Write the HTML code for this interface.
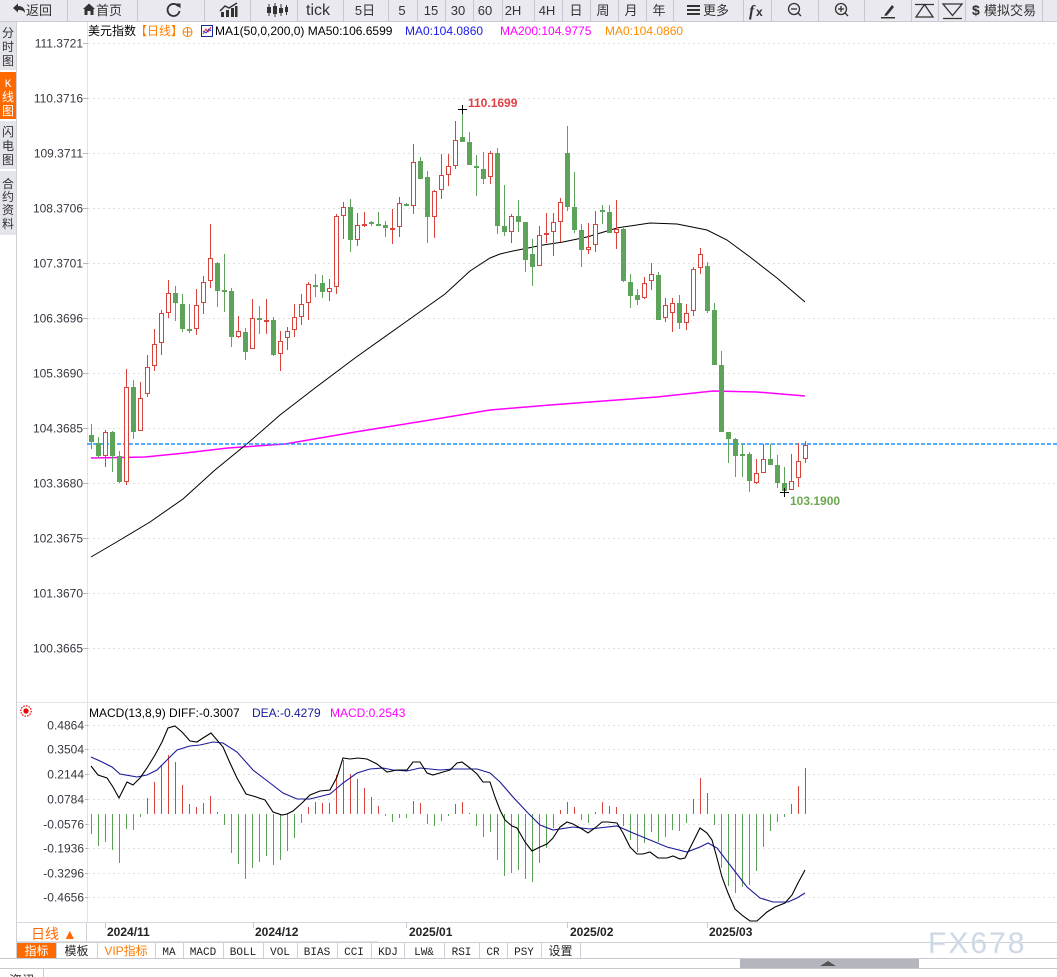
<!DOCTYPE html>
<html><head><meta charset="utf-8"><style>
html,body{margin:0;padding:0;background:#fff;}
body{width:1057px;height:977px;overflow:hidden;position:relative;}
svg{display:block;}
</style></head><body>
<svg width="1057" height="977" xmlns="http://www.w3.org/2000/svg" font-family="'Liberation Sans','Noto Sans CJK SC',sans-serif" shape-rendering="crispEdges">
<rect x="0" y="0" width="1057" height="977" fill="#fff"/>

<!-- Toolbar -->
<rect x="0" y="0" width="1057" height="21" fill="#e9e9ef"/>
<line x1="0" y1="21.5" x2="1057" y2="21.5" stroke="#c9cad2"/>
<g stroke="#c6c7d0">
<line x1="67.5" y1="0" x2="67.5" y2="21"/><line x1="137.5" y1="0" x2="137.5" y2="21"/><line x1="204.5" y1="0" x2="204.5" y2="21"/><line x1="250.5" y1="0" x2="250.5" y2="21"/><line x1="297.5" y1="0" x2="297.5" y2="21"/><line x1="343.5" y1="0" x2="343.5" y2="21"/><line x1="388.5" y1="0" x2="388.5" y2="21"/><line x1="417.5" y1="0" x2="417.5" y2="21"/><line x1="445.5" y1="0" x2="445.5" y2="21"/><line x1="473.5" y1="0" x2="473.5" y2="21"/><line x1="502.5" y1="0" x2="502.5" y2="21"/><line x1="534.5" y1="0" x2="534.5" y2="21"/><line x1="562.5" y1="0" x2="562.5" y2="21"/><line x1="590.5" y1="0" x2="590.5" y2="21"/><line x1="618.5" y1="0" x2="618.5" y2="21"/><line x1="646.5" y1="0" x2="646.5" y2="21"/><line x1="673.5" y1="0" x2="673.5" y2="21"/><line x1="743.5" y1="0" x2="743.5" y2="21"/><line x1="771.5" y1="0" x2="771.5" y2="21"/><line x1="818.5" y1="0" x2="818.5" y2="21"/><line x1="864.5" y1="0" x2="864.5" y2="21"/><line x1="911.5" y1="0" x2="911.5" y2="21"/><line x1="938.5" y1="0" x2="938.5" y2="21"/><line x1="965.5" y1="0" x2="965.5" y2="21"/><line x1="1042.5" y1="0" x2="1042.5" y2="21"/>
</g>
<g shape-rendering="auto">
<path d="M13 8 L18 3.5 L18 6 C22 6 25 8 25 13 C23.5 10.5 21.5 10 18 10 L18 12.5 Z" fill="#333"/>
<path d="M83 9 L89 3.5 L95 9 L93.5 9 L93.5 15 L90.5 15 L90.5 11 L87.5 11 L87.5 15 L84.5 15 L84.5 9 Z" fill="#333"/>
<path d="M178.5 6.5 A6 6 0 1 0 179.5 11" fill="none" stroke="#333" stroke-width="1.8"/>
<path d="M175.5 3.5 L180.5 3.5 L180.5 8.5 Z" fill="#333"/>
<g fill="#333"><rect x="221" y="12" width="3" height="5"/><rect x="226" y="10" width="3" height="7"/><rect x="231" y="8" width="3" height="9"/><rect x="235" y="6" width="2.5" height="11"/></g>
<path d="M220 11 L225 6 L229 8 L237 3" fill="none" stroke="#333" stroke-width="1.5"/>
<g fill="#333"><rect x="268.5" y="4" width="1" height="12"/><rect x="267" y="7" width="4" height="6"/><rect x="274.5" y="3" width="1" height="14"/><rect x="273" y="6" width="4" height="8"/><rect x="280.5" y="4" width="1" height="12"/><rect x="279" y="8" width="4" height="5"/><rect x="286" y="5" width="1" height="10"/><rect x="285" y="7" width="3" height="5"/></g>
</g>
<g font-size="13" fill="#333" text-anchor="middle">
<text x="39" y="15">返回</text>
<text x="109" y="15">首页</text>
<text x="318" y="15" font-size="16">tick</text>
<text x="365" y="15">5日</text>
<text x="402" y="15">5</text>
<text x="431" y="15">15</text>
<text x="458" y="15">30</text>
<text x="485" y="15">60</text>
<text x="513" y="15">2H</text>
<text x="547" y="15">4H</text>
<text x="576" y="15">日</text>
<text x="603" y="15">周</text>
<text x="631" y="15">月</text>
<text x="659" y="15">年</text>
<text x="716" y="15">更多</text>
<text x="1010" y="15">模拟交易</text>
</g>
<g fill="#333"><rect x="687" y="5" width="13" height="2"/><rect x="687" y="9" width="13" height="2"/><rect x="687" y="13" width="13" height="2"/></g>
<text x="749" y="16" font-family="'Liberation Serif',serif" font-style="italic" font-weight="bold" font-size="16" fill="#333">f</text>
<text x="756" y="16" font-family="'Liberation Sans',sans-serif" font-weight="bold" font-size="12" fill="#333">x</text>
<g shape-rendering="auto" fill="none" stroke="#333" stroke-width="1.3">
<circle cx="794" cy="9" r="5.5"/><line x1="791" y1="9" x2="797" y2="9"/><line x1="798" y1="13" x2="801" y2="16"/>
<circle cx="841" cy="9" r="5.5"/><line x1="838" y1="9" x2="844" y2="9"/><line x1="841" y1="6" x2="841" y2="12"/><line x1="845" y1="13" x2="848" y2="16"/>
<path d="M915 4.5 L934 4.5 M924.5 4.5 L933 17 L916 17 Z"/>
<path d="M943 4 L962 4 L952.5 15.5 Z M943 18.5 L962 18.5"/>
</g>
<g shape-rendering="auto"><path d="M885 14 L892 5 L894 7 L887 15.5 L884.5 16 Z" fill="#333"/><rect x="881" y="17" width="14" height="1.5" fill="#333"/></g>
<text x="972" y="15" font-size="14" font-weight="bold" fill="#333">$</text>

<!-- Left sidebar -->
<rect x="0" y="22" width="16" height="48" fill="#e4e4eb"/>
<rect x="0" y="72" width="16" height="47" fill="#ff6a00"/>
<rect x="0" y="121" width="16" height="48" fill="#e4e4eb"/>
<rect x="0" y="171" width="16" height="64" fill="#e4e4eb"/>
<line x1="16.5" y1="22" x2="16.5" y2="958" stroke="#cfcfd6"/>
<g font-size="12" fill="#333" text-anchor="middle">
<text x="8" y="37">分</text><text x="8" y="51">时</text><text x="8" y="65">图</text>
<text x="8" y="87" fill="#fff" font-family="'Liberation Mono',monospace" font-size="11">K</text><text x="8" y="101" fill="#fff">线</text><text x="8" y="115" fill="#fff">图</text>
<text x="8" y="136">闪</text><text x="8" y="150">电</text><text x="8" y="164">图</text>
<text x="8" y="188">合</text><text x="8" y="201">约</text><text x="8" y="214">资</text><text x="8" y="228">料</text>
</g>

<!-- Price axis -->
<line x1="87.5" y1="22" x2="87.5" y2="922" stroke="#e2e2e8"/>
<g stroke="#e0e0e0" stroke-dasharray="2,3">
<line x1="88" y1="43.5" x2="1057" y2="43.5"/><line x1="88" y1="98.5" x2="1057" y2="98.5"/><line x1="88" y1="153.5" x2="1057" y2="153.5"/><line x1="88" y1="208.5" x2="1057" y2="208.5"/><line x1="88" y1="263.5" x2="1057" y2="263.5"/><line x1="88" y1="318.5" x2="1057" y2="318.5"/><line x1="88" y1="373.5" x2="1057" y2="373.5"/><line x1="88" y1="428.5" x2="1057" y2="428.5"/><line x1="88" y1="483.5" x2="1057" y2="483.5"/><line x1="88" y1="538.5" x2="1057" y2="538.5"/><line x1="88" y1="593.5" x2="1057" y2="593.5"/><line x1="88" y1="648.5" x2="1057" y2="648.5"/>
<line x1="88" y1="725.5" x2="1057" y2="725.5"/><line x1="88" y1="749.5" x2="1057" y2="749.5"/><line x1="88" y1="774.5" x2="1057" y2="774.5"/><line x1="88" y1="799.5" x2="1057" y2="799.5"/><line x1="88" y1="824.5" x2="1057" y2="824.5"/><line x1="88" y1="848.5" x2="1057" y2="848.5"/><line x1="88" y1="873.5" x2="1057" y2="873.5"/><line x1="88" y1="897.5" x2="1057" y2="897.5"/>
</g>
<g stroke="#b8b8c0">
<line x1="83" y1="43.5" x2="88" y2="43.5"/><line x1="83" y1="98.5" x2="88" y2="98.5"/><line x1="83" y1="153.5" x2="88" y2="153.5"/><line x1="83" y1="208.5" x2="88" y2="208.5"/><line x1="83" y1="263.5" x2="88" y2="263.5"/><line x1="83" y1="318.5" x2="88" y2="318.5"/><line x1="83" y1="373.5" x2="88" y2="373.5"/><line x1="83" y1="428.5" x2="88" y2="428.5"/><line x1="83" y1="483.5" x2="88" y2="483.5"/><line x1="83" y1="538.5" x2="88" y2="538.5"/><line x1="83" y1="593.5" x2="88" y2="593.5"/><line x1="83" y1="648.5" x2="88" y2="648.5"/>
<line x1="85" y1="725.5" x2="88" y2="725.5"/><line x1="85" y1="749.5" x2="88" y2="749.5"/><line x1="85" y1="774.5" x2="88" y2="774.5"/><line x1="85" y1="799.5" x2="88" y2="799.5"/><line x1="85" y1="824.5" x2="88" y2="824.5"/><line x1="85" y1="848.5" x2="88" y2="848.5"/><line x1="85" y1="873.5" x2="88" y2="873.5"/><line x1="85" y1="897.5" x2="88" y2="897.5"/>
</g>
<g font-size="12" fill="#363640" text-anchor="end">
<text x="83" y="47.5">111.3721</text><text x="83" y="102.5">110.3716</text><text x="83" y="157.5">109.3711</text><text x="83" y="212.5">108.3706</text><text x="83" y="267.5">107.3701</text><text x="83" y="322.5">106.3696</text><text x="83" y="377.5">105.3690</text><text x="83" y="432.5">104.3685</text><text x="83" y="487.5">103.3680</text><text x="83" y="542.5">102.3675</text><text x="83" y="597.5">101.3670</text><text x="83" y="652.5">100.3665</text>
<text x="84" y="729.5">0.4864</text><text x="84" y="753.5">0.3504</text><text x="84" y="778.5">0.2144</text><text x="84" y="803.5">0.0784</text><text x="84" y="828.5">-0.0576</text><text x="84" y="852.5">-0.1936</text><text x="84" y="877.5">-0.3296</text><text x="84" y="901.5">-0.4656</text>
</g>

<!-- Legend -->
<g font-size="12">
<text x="88" y="35" fill="#000">美元指数</text>
<text x="135" y="35" fill="#ff7f00">【日线】</text>
<text x="215" y="35" fill="#000">MA1(50,0,200,0) MA50:106.6599</text>
<text x="405" y="35" fill="#1a1ae6">MA0:104.0860</text>
<text x="500" y="35" fill="#ff00ff">MA200:104.9775</text>
<text x="605" y="35" fill="#ff8c00">MA0:104.0860</text>
</g>
<g shape-rendering="auto">
<circle cx="187.5" cy="32" r="4.5" fill="none" stroke="#ff7f00"/><line x1="183" y1="32" x2="192" y2="32" stroke="#ff7f00"/><line x1="187.5" y1="27.5" x2="187.5" y2="36.5" stroke="#ff7f00"/>
<rect x="201.5" y="25.5" width="11" height="11" fill="#fff" stroke="#1a2a9a"/>
<path d="M203 34 L206 29 L208 32 L211 27" fill="none" stroke="#e23" stroke-width="1"/>
<path d="M203 31 L206 33 L209 29 L211 31" fill="none" stroke="#23c" stroke-width="1"/>
</g>

<!-- MA200 and MA50 -->
<g shape-rendering="auto" fill="none">
<polyline stroke="#ff00ff" stroke-width="1.5" points="91,458 145,457 185,453 228,448 285,444 355,432 430,420 490,410 550,405 590,402 657,397 713,391 757,392 805,396"/>
<polyline stroke="#000" stroke-width="1" points="91,557 120,540 150,522 183,499 215,470 248,443 280,415 315,388 355,358 400,326 445,294 470,271 490,258 500,254 513,251 543,245 563,242 587,237 617,228 623,227 650,223 677,224 707,230 727,240 750,257 777,278 805,302"/>
</g>
<line x1="87" y1="444" x2="1057" y2="444" stroke="#1e90ff" stroke-width="1.5" stroke-dasharray="4,2" shape-rendering="auto"/>

<!-- Green candles -->
<g fill="#5da35a">
<rect x="91" y="424" width="1" height="25"/><rect x="89" y="435" width="5" height="7"/>
<rect x="98" y="437" width="1" height="21"/><rect x="96" y="443" width="5" height="13"/>
<rect x="112" y="431" width="1" height="41"/><rect x="110" y="432" width="5" height="24"/>
<rect x="119" y="451" width="1" height="32"/><rect x="117" y="456" width="5" height="26"/>
<rect x="133" y="380" width="1" height="59"/><rect x="131" y="387" width="5" height="45"/>
<rect x="175" y="286" width="1" height="35"/><rect x="173" y="293" width="5" height="10"/>
<rect x="182" y="294" width="1" height="38"/><rect x="180" y="304" width="5" height="25"/>
<rect x="189" y="304" width="1" height="29"/><rect x="187" y="329" width="5" height="2"/>
<rect x="217" y="262" width="1" height="45"/><rect x="215" y="263" width="5" height="28"/>
<rect x="224" y="254" width="1" height="58"/><rect x="222" y="290" width="5" height="2"/>
<rect x="231" y="288" width="1" height="59"/><rect x="229" y="291" width="5" height="46"/>
<rect x="245" y="328" width="1" height="32"/><rect x="243" y="332" width="5" height="20"/>
<rect x="259" y="306" width="1" height="28"/><rect x="257" y="318" width="5" height="2"/>
<rect x="273" y="317" width="1" height="39"/><rect x="271" y="320" width="5" height="35"/>
<rect x="315" y="274" width="1" height="23"/><rect x="313" y="285" width="5" height="2"/>
<rect x="322" y="275" width="1" height="23"/><rect x="320" y="283" width="5" height="9"/>
<rect x="350" y="199" width="1" height="53"/><rect x="348" y="207" width="5" height="33"/>
<rect x="371" y="221" width="1" height="5"/><rect x="369" y="222" width="5" height="2"/>
<rect x="378" y="212" width="1" height="14"/><rect x="376" y="224" width="5" height="2"/>
<rect x="385" y="221" width="1" height="16"/><rect x="383" y="225" width="5" height="3"/>
<rect x="406" y="203" width="1" height="3"/><rect x="404" y="204" width="5" height="2"/>
<rect x="420" y="157" width="1" height="22"/><rect x="418" y="161" width="5" height="18"/>
<rect x="427" y="171" width="1" height="72"/><rect x="425" y="177" width="5" height="40"/>
<rect x="462" y="109" width="1" height="33"/><rect x="460" y="137" width="5" height="5"/>
<rect x="469" y="132" width="1" height="33"/><rect x="467" y="142" width="5" height="23"/>
<rect x="476" y="155" width="1" height="41"/><rect x="474" y="166" width="5" height="2"/>
<rect x="483" y="152" width="1" height="32"/><rect x="481" y="169" width="5" height="10"/>
<rect x="497" y="148" width="1" height="86"/><rect x="495" y="153" width="5" height="73"/>
<rect x="504" y="185" width="1" height="51"/><rect x="502" y="226" width="5" height="6"/>
<rect x="518" y="200" width="1" height="32"/><rect x="516" y="216" width="5" height="6"/>
<rect x="525" y="222" width="1" height="50"/><rect x="523" y="222" width="5" height="38"/>
<rect x="532" y="239" width="1" height="47"/><rect x="530" y="254" width="5" height="13"/>
<rect x="567" y="126" width="1" height="85"/><rect x="565" y="153" width="5" height="54"/>
<rect x="574" y="172" width="1" height="61"/><rect x="572" y="207" width="5" height="23"/>
<rect x="581" y="224" width="1" height="43"/><rect x="579" y="230" width="5" height="20"/>
<rect x="602" y="205" width="1" height="19"/><rect x="600" y="210" width="5" height="2"/>
<rect x="609" y="205" width="1" height="28"/><rect x="607" y="212" width="5" height="21"/>
<rect x="623" y="228" width="1" height="54"/><rect x="621" y="229" width="5" height="52"/>
<rect x="630" y="274" width="1" height="34"/><rect x="628" y="282" width="5" height="14"/>
<rect x="637" y="289" width="1" height="16"/><rect x="635" y="295" width="5" height="5"/>
<rect x="658" y="272" width="1" height="48"/><rect x="656" y="275" width="5" height="45"/>
<rect x="679" y="295" width="1" height="34"/><rect x="677" y="303" width="5" height="20"/>
<rect x="707" y="262" width="1" height="51"/><rect x="705" y="266" width="5" height="45"/>
<rect x="714" y="303" width="1" height="62"/><rect x="712" y="310" width="5" height="55"/>
<rect x="721" y="351" width="1" height="81"/><rect x="719" y="365" width="5" height="67"/>
<rect x="728" y="432" width="1" height="31"/><rect x="726" y="432" width="5" height="7"/>
<rect x="735" y="438" width="1" height="39"/><rect x="733" y="439" width="5" height="17"/>
<rect x="742" y="444" width="1" height="33"/><rect x="740" y="454" width="5" height="2"/>
<rect x="749" y="452" width="1" height="40"/><rect x="747" y="454" width="5" height="27"/>
<rect x="770" y="444" width="1" height="21"/><rect x="768" y="459" width="5" height="6"/>
<rect x="777" y="455" width="1" height="33"/><rect x="775" y="465" width="5" height="18"/>
<rect x="784" y="467" width="1" height="26"/><rect x="782" y="483" width="5" height="8"/>
</g>

<!-- Red candle wicks and tiny bodies -->
<g fill="#d8433b">
<rect x="105" y="430" width="1" height="37"/><rect x="126" y="369" width="1" height="116"/><rect x="140" y="382" width="1" height="49"/><rect x="147" y="355" width="1" height="42"/><rect x="154" y="329" width="1" height="42"/><rect x="161" y="310" width="1" height="45"/><rect x="168" y="280" width="1" height="38"/><rect x="196" y="289" width="1" height="46"/><rect x="203" y="276" width="1" height="38"/><rect x="210" y="224" width="1" height="64"/><rect x="238" y="316" width="1" height="22"/><rect x="252" y="299" width="1" height="50"/>
<rect x="266" y="299" width="1" height="35"/><rect x="264" y="320" width="5" height="2"/>
<rect x="280" y="331" width="1" height="40"/><rect x="287" y="327" width="1" height="23"/><rect x="294" y="304" width="1" height="33"/><rect x="301" y="294" width="1" height="31"/><rect x="308" y="282" width="1" height="38"/><rect x="329" y="279" width="1" height="22"/><rect x="336" y="214" width="1" height="80"/><rect x="343" y="202" width="1" height="37"/><rect x="357" y="213" width="1" height="33"/>
<rect x="364" y="212" width="1" height="15"/><rect x="362" y="224" width="5" height="2"/>
<rect x="392" y="209" width="1" height="35"/><rect x="390" y="228" width="5" height="2"/>
<rect x="399" y="197" width="1" height="40"/><rect x="413" y="144" width="1" height="70"/><rect x="434" y="190" width="1" height="48"/><rect x="441" y="154" width="1" height="45"/><rect x="448" y="154" width="1" height="32"/><rect x="455" y="121" width="1" height="48"/><rect x="490" y="151" width="1" height="33"/><rect x="511" y="214" width="1" height="29"/><rect x="539" y="226" width="1" height="40"/>
<rect x="546" y="213" width="1" height="30"/><rect x="544" y="233" width="5" height="2"/>
<rect x="553" y="213" width="1" height="43"/><rect x="560" y="198" width="1" height="44"/><rect x="588" y="223" width="1" height="31"/><rect x="595" y="211" width="1" height="41"/><rect x="616" y="200" width="1" height="49"/><rect x="644" y="277" width="1" height="22"/><rect x="651" y="263" width="1" height="27"/><rect x="665" y="298" width="1" height="24"/><rect x="672" y="298" width="1" height="34"/><rect x="686" y="304" width="1" height="26"/><rect x="693" y="267" width="1" height="49"/><rect x="700" y="248" width="1" height="26"/><rect x="756" y="459" width="1" height="25"/><rect x="763" y="444" width="1" height="29"/><rect x="791" y="454" width="1" height="36"/><rect x="798" y="443" width="1" height="44"/><rect x="805" y="441" width="1" height="22"/>
</g>
<!-- Red hollow bodies -->
<g fill="#fff" stroke="#d8433b" shape-rendering="auto">
<rect x="103.5" y="432.5" width="4" height="23"/><rect x="124.5" y="387.5" width="4" height="94"/><rect x="138.5" y="398.5" width="4" height="32"/><rect x="145.5" y="367.5" width="4" height="26"/><rect x="152.5" y="344.5" width="4" height="21"/><rect x="159.5" y="313.5" width="4" height="29"/><rect x="166.5" y="293.5" width="4" height="19"/><rect x="194.5" y="305.5" width="4" height="23"/><rect x="201.5" y="282.5" width="4" height="20"/><rect x="208.5" y="258.5" width="4" height="22"/><rect x="236.5" y="331.5" width="4" height="5"/><rect x="250.5" y="318.5" width="4" height="30"/><rect x="278.5" y="341.5" width="4" height="12"/><rect x="285.5" y="331.5" width="4" height="6"/><rect x="292.5" y="317.5" width="4" height="12"/><rect x="299.5" y="304.5" width="4" height="12"/><rect x="306.5" y="284.5" width="4" height="18"/><rect x="327.5" y="288.5" width="4" height="3"/><rect x="334.5" y="216.5" width="4" height="70"/><rect x="341.5" y="207.5" width="4" height="8"/><rect x="355.5" y="225.5" width="4" height="14"/><rect x="397.5" y="203.5" width="4" height="23"/><rect x="411.5" y="162.5" width="4" height="43"/><rect x="432.5" y="191.5" width="4" height="25"/><rect x="439.5" y="175.5" width="4" height="14"/><rect x="446.5" y="166.5" width="4" height="8"/><rect x="453.5" y="140.5" width="4" height="25"/><rect x="488.5" y="153.5" width="4" height="23"/><rect x="509.5" y="216.5" width="4" height="15"/><rect x="537.5" y="235.5" width="4" height="30"/><rect x="551.5" y="222.5" width="4" height="9"/><rect x="558.5" y="202.5" width="4" height="19"/><rect x="586.5" y="247.5" width="4" height="2"/><rect x="593.5" y="224.5" width="4" height="20"/><rect x="614.5" y="229.5" width="4" height="3"/><rect x="642.5" y="283.5" width="4" height="14"/><rect x="649.5" y="274.5" width="4" height="6"/><rect x="663.5" y="305.5" width="4" height="12"/><rect x="670.5" y="303.5" width="4" height="9"/><rect x="684.5" y="313.5" width="4" height="9"/><rect x="691.5" y="269.5" width="4" height="41"/><rect x="698.5" y="254.5" width="4" height="13"/><rect x="754.5" y="473.5" width="4" height="9"/><rect x="761.5" y="459.5" width="4" height="13"/><rect x="789.5" y="481.5" width="4" height="8"/><rect x="796.5" y="461.5" width="4" height="16"/><rect x="803.5" y="445.5" width="4" height="13"/>
</g>

<!-- High / low markers -->
<g fill="#000"><rect x="458" y="109" width="9" height="1"/><rect x="462" y="105" width="1" height="9"/><rect x="780" y="492" width="9" height="1"/><rect x="784" y="488" width="1" height="9"/></g>
<text x="468" y="107" font-size="12" font-weight="bold" fill="#e04040">110.1699</text>
<text x="790" y="505" font-size="12" font-weight="bold" fill="#6aa84f">103.1900</text>

<!-- MACD panel -->
<line x1="17" y1="702.5" x2="1057" y2="702.5" stroke="#e2e2e8"/>
<g shape-rendering="auto">
<circle cx="26" cy="711" r="2.6" fill="#e00"/>
<circle cx="26" cy="711" r="5.2" fill="none" stroke="#e00" stroke-width="1.2" stroke-dasharray="1.5,1.2"/>
</g>
<g font-size="12">
<text x="89" y="717" fill="#000">MACD(13,8,9) DIFF:-0.3007</text>
<text x="252" y="717" fill="#1a1a96">DEA:-0.4279</text>
<text x="330" y="717" fill="#ff00ff">MACD:0.2543</text>
</g>
<g fill="#5ba155">
<rect x="91" y="814" width="1" height="20"/><rect x="98" y="814" width="1" height="32"/><rect x="105" y="814" width="1" height="28"/><rect x="112" y="814" width="1" height="36"/><rect x="119" y="814" width="1" height="49"/><rect x="126" y="814" width="1" height="15"/><rect x="133" y="814" width="1" height="16"/><rect x="140" y="814" width="1" height="3"/>
<rect x="224" y="814" width="1" height="11"/><rect x="231" y="814" width="1" height="39"/><rect x="238" y="814" width="1" height="50"/><rect x="245" y="814" width="1" height="65"/><rect x="252" y="814" width="1" height="54"/><rect x="259" y="814" width="1" height="48"/><rect x="266" y="814" width="1" height="42"/><rect x="273" y="814" width="1" height="51"/><rect x="280" y="814" width="1" height="46"/><rect x="287" y="814" width="1" height="37"/><rect x="294" y="814" width="1" height="24"/><rect x="301" y="814" width="1" height="9"/>
<rect x="385" y="814" width="1" height="2"/><rect x="392" y="814" width="1" height="8"/><rect x="399" y="814" width="1" height="4"/><rect x="406" y="814" width="1" height="4"/>
<rect x="427" y="814" width="1" height="10"/><rect x="434" y="814" width="1" height="12"/><rect x="441" y="814" width="1" height="7"/><rect x="448" y="814" width="1" height="2"/>
<rect x="476" y="814" width="1" height="12"/><rect x="483" y="814" width="1" height="23"/><rect x="490" y="814" width="1" height="18"/><rect x="497" y="814" width="1" height="46"/><rect x="504" y="814" width="1" height="62"/><rect x="511" y="814" width="1" height="59"/><rect x="518" y="814" width="1" height="56"/><rect x="525" y="814" width="1" height="65"/><rect x="532" y="814" width="1" height="68"/><rect x="539" y="814" width="1" height="49"/><rect x="546" y="814" width="1" height="34"/><rect x="553" y="814" width="1" height="14"/>
<rect x="581" y="814" width="1" height="6"/><rect x="588" y="814" width="1" height="9"/>
<rect x="623" y="814" width="1" height="12"/><rect x="630" y="814" width="1" height="26"/><rect x="637" y="814" width="1" height="38"/><rect x="644" y="814" width="1" height="29"/><rect x="651" y="814" width="1" height="18"/><rect x="658" y="814" width="1" height="28"/><rect x="665" y="814" width="1" height="23"/><rect x="672" y="814" width="1" height="16"/><rect x="679" y="814" width="1" height="17"/><rect x="686" y="814" width="1" height="9"/>
<rect x="714" y="814" width="1" height="11"/><rect x="721" y="814" width="1" height="54"/><rect x="728" y="814" width="1" height="72"/><rect x="735" y="814" width="1" height="79"/><rect x="742" y="814" width="1" height="73"/><rect x="749" y="814" width="1" height="71"/><rect x="756" y="814" width="1" height="57"/><rect x="763" y="814" width="1" height="33"/><rect x="770" y="814" width="1" height="17"/><rect x="777" y="814" width="1" height="8"/><rect x="784" y="814" width="1" height="3"/>
</g>
<g fill="#d9443c">
<rect x="147" y="798" width="1" height="16"/><rect x="154" y="782" width="1" height="32"/><rect x="161" y="766" width="1" height="48"/><rect x="168" y="755" width="1" height="59"/><rect x="175" y="762" width="1" height="52"/><rect x="182" y="785" width="1" height="29"/><rect x="189" y="804" width="1" height="10"/><rect x="196" y="807" width="1" height="7"/><rect x="203" y="803" width="1" height="11"/><rect x="210" y="796" width="1" height="18"/><rect x="217" y="812" width="1" height="2"/>
<rect x="308" y="807" width="1" height="7"/><rect x="315" y="802" width="1" height="12"/><rect x="322" y="803" width="1" height="11"/><rect x="329" y="803" width="1" height="11"/><rect x="336" y="775" width="1" height="39"/><rect x="343" y="760" width="1" height="54"/><rect x="350" y="774" width="1" height="40"/><rect x="357" y="779" width="1" height="35"/><rect x="364" y="788" width="1" height="26"/><rect x="371" y="797" width="1" height="17"/><rect x="378" y="806" width="1" height="8"/>
<rect x="413" y="801" width="1" height="13"/><rect x="420" y="803" width="1" height="11"/>
<rect x="455" y="804" width="1" height="10"/><rect x="462" y="802" width="1" height="12"/><rect x="469" y="813" width="1" height="1"/>
<rect x="560" y="810" width="1" height="4"/><rect x="567" y="802" width="1" height="12"/><rect x="574" y="807" width="1" height="7"/>
<rect x="595" y="812" width="1" height="2"/><rect x="602" y="802" width="1" height="12"/><rect x="609" y="806" width="1" height="8"/><rect x="616" y="807" width="1" height="7"/>
<rect x="693" y="799" width="1" height="15"/><rect x="700" y="778" width="1" height="36"/><rect x="707" y="793" width="1" height="21"/>
<rect x="791" y="804" width="1" height="10"/><rect x="798" y="786" width="1" height="28"/><rect x="805" y="768" width="1" height="46"/>
</g>
<g shape-rendering="auto" fill="none" stroke-width="1.1">
<polyline stroke="#1a1a9a" points="91,757 100,761 112,767 120,774 137,777 147,775 157,770 167,760 177,750 190,746 200,745 213,742 223,743 237,752 253,770 270,783 283,793 297,799 310,799 330,794 343,783 357,773 370,769 383,768 393,770 407,771 420,768 440,770 453,769 477,769 490,773 500,782 513,797 527,812 540,825 553,830 573,827 590,829 617,826 633,833 650,840 667,847 687,852 700,847 708,843 717,848 730,865 747,887 760,898 773,902 788,902 797,898 805,893"/>
<polyline stroke="#000" points="91,766 98,775 107,778 113,787 119,798 127,782 133,785 140,778 147,768 155,755 162,742 168,728 175,726 182,732 190,741 197,742 203,738 211,733 217,740 223,747 230,763 237,778 246,794 253,796 265,800 273,812 282,815 287,814 293,811 302,803 310,795 320,791 330,790 337,777 343,758 350,759 358,758 367,759 377,764 387,772 397,770 407,770 413,762 420,762 427,773 433,775 443,772 450,770 457,763 462,762 470,768 477,774 483,782 490,782 495,797 500,810 505,820 512,826 517,828 525,842 532,851 540,847 547,844 553,838 560,827 567,822 573,824 582,829 588,833 595,828 602,822 608,822 617,823 623,833 630,847 637,854 643,854 650,852 658,858 667,858 673,856 680,859 685,858 690,848 695,838 700,828 707,833 712,840 717,858 722,877 728,893 735,909 743,916 750,921 757,921 767,912 775,907 785,903 792,895 798,883 805,870"/>
</g>

<!-- Date axis -->
<line x1="17" y1="922.5" x2="1057" y2="922.5" stroke="#d8d8de"/>
<line x1="86.5" y1="922" x2="86.5" y2="942" stroke="#d0d0d8"/>
<line x1="17" y1="941.5" x2="378" y2="941.5" stroke="#e0e0e6"/>
<g stroke="#c8c8d0"><line x1="105.5" y1="922" x2="105.5" y2="928"/><line x1="253.5" y1="922" x2="253.5" y2="928"/><line x1="406.5" y1="922" x2="406.5" y2="928"/><line x1="567.5" y1="922" x2="567.5" y2="928"/><line x1="707.5" y1="922" x2="707.5" y2="928"/></g>
<g font-size="12" font-weight="bold" fill="#222">
<text x="107" y="936">2024/11</text><text x="255" y="936">2024/12</text><text x="409" y="936">2025/01</text><text x="570" y="936">2025/02</text><text x="709" y="936">2025/03</text>
</g>
<text x="31" y="939" font-size="14" fill="#ff6a00">日线 ▲</text>

<!-- Bottom tabs -->
<rect x="17" y="943" width="39" height="15" fill="#ff6a00"/>
<line x1="17" y1="942.5" x2="1057" y2="942.5" stroke="#cfcfd6"/>
<line x1="0" y1="958.5" x2="1057" y2="958.5" stroke="#c8c8d0"/>
<g stroke="#d0d0d8">
<line x1="56.5" y1="943" x2="56.5" y2="958"/><line x1="97.5" y1="943" x2="97.5" y2="958"/><line x1="155.5" y1="943" x2="155.5" y2="958"/><line x1="183.5" y1="943" x2="183.5" y2="958"/><line x1="223.5" y1="943" x2="223.5" y2="958"/><line x1="263.5" y1="943" x2="263.5" y2="958"/><line x1="297.5" y1="943" x2="297.5" y2="958"/><line x1="337.5" y1="943" x2="337.5" y2="958"/><line x1="371.5" y1="943" x2="371.5" y2="958"/><line x1="404.5" y1="943" x2="404.5" y2="958"/><line x1="444.5" y1="943" x2="444.5" y2="958"/><line x1="479.5" y1="943" x2="479.5" y2="958"/><line x1="507.5" y1="943" x2="507.5" y2="958"/><line x1="541.5" y1="943" x2="541.5" y2="958"/><line x1="580.5" y1="943" x2="580.5" y2="958"/>
</g>
<g font-size="12" text-anchor="middle" fill="#222">
<text x="36.5" y="955" fill="#fff">指标</text>
<text x="76.5" y="955">模板</text>
<text x="126" y="955" fill="#ff7b00">VIP指标</text>
<text x="560.5" y="955">设置</text>
</g>
<g font-size="11" text-anchor="middle" fill="#222" font-family="'Liberation Mono',monospace">
<text x="169" y="955">MA</text><text x="203" y="955">MACD</text><text x="243" y="955">BOLL</text><text x="280" y="955">VOL</text><text x="317" y="955">BIAS</text><text x="354" y="955">CCI</text><text x="388" y="955">KDJ</text><text x="424" y="955">LW&amp;</text><text x="461.5" y="955">RSI</text><text x="493" y="955">CR</text><text x="524" y="955">PSY</text>
</g>

<!-- Scrollbar -->
<rect x="740" y="959" width="179" height="9" fill="#b5b5bd"/>
<path d="M820 966 L828 961 L836 966 Z" fill="#555"/>
<line x1="0" y1="968.5" x2="1057" y2="968.5" stroke="#c8c8d0"/>
<line x1="43.5" y1="969" x2="43.5" y2="977" stroke="#c8c8d0"/>
<text x="9" y="985" font-size="13" fill="#333">资讯</text>

<!-- Watermark -->
<text x="928" y="953" font-size="30" letter-spacing="2" fill="#cbd6e4" stroke="#e6ecf3" stroke-width="0.6" shape-rendering="auto">FX678</text>
</svg>
</body></html>
